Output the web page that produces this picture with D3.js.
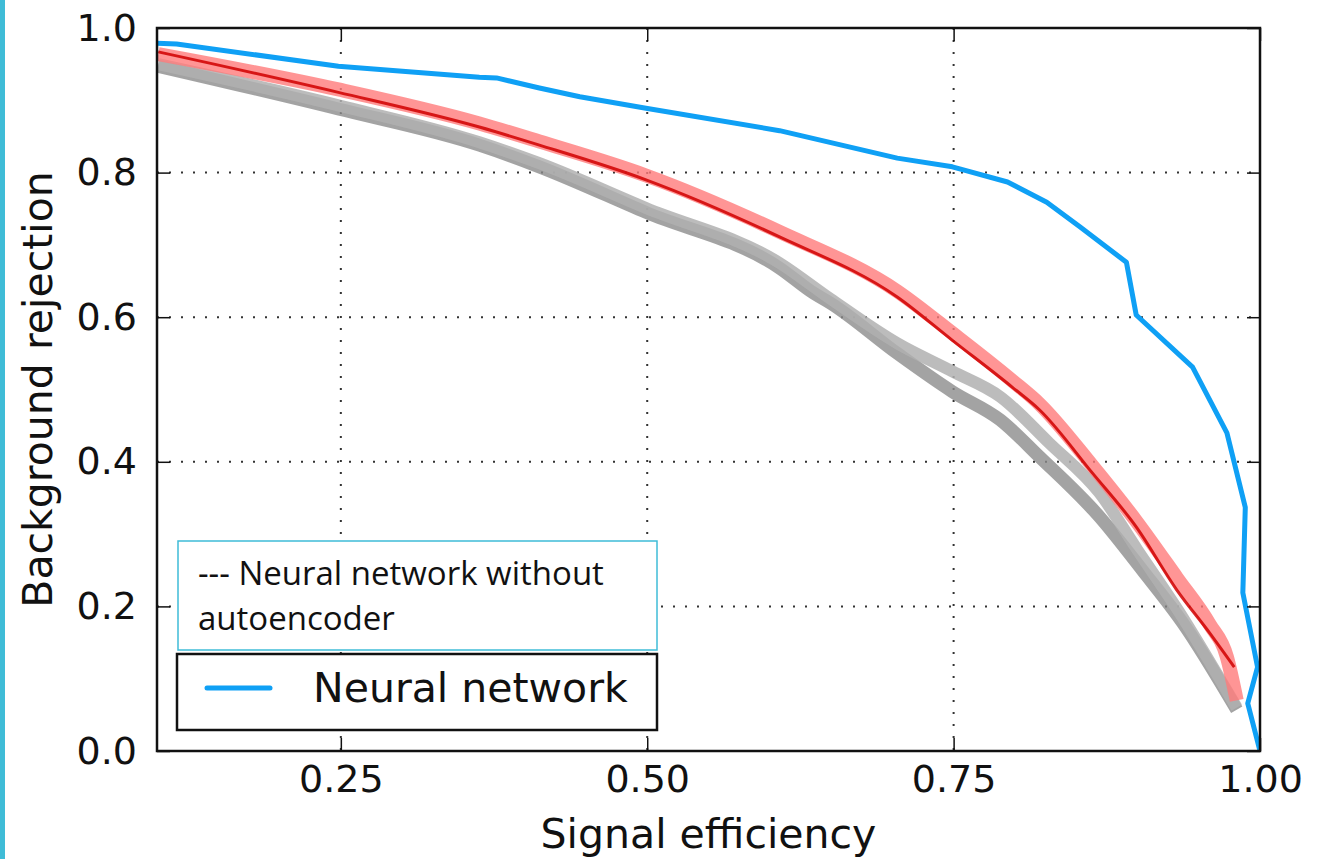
<!DOCTYPE html>
<html lang="en">
<head>
<meta charset="UTF-8">
<title>Background rejection vs signal efficiency</title>
<script src="https://d3js.org/d3.v7.min.js"></script>
<style>
    body { margin: 0; background: #fff; }
    #chart text { font-family: 'DejaVu Sans', sans-serif; fill: #111; }
    #chart .note text { font-family: 'Open Sans', Lato, sans-serif; }
</style>
</head>
<body>
<div id="chart"></div>
<script>
    // tick values
    const xTicks = [0.25, 0.5, 0.75, 1.0];
    const yTicks = [0.0, 0.2, 0.4, 0.6, 0.8, 1.0];

    // neural network (blue)
    const nnX = [0.1, 0.116, 0.248, 0.363, 0.377, 0.412, 0.445, 0.499, 0.608, 0.704, 0.749, 0.794, 0.826, 0.853, 0.891, 0.899, 0.945, 0.973, 0.988, 0.986, 0.998, 0.990, 1.0];
    const nnY = [0.979, 0.978, 0.947, 0.932, 0.931, 0.917, 0.905, 0.889, 0.858, 0.820, 0.808, 0.787, 0.759, 0.725, 0.676, 0.603, 0.531, 0.440, 0.337, 0.219, 0.116, 0.066, 0.0];

    // neural network without autoencoder (dark red line)
    const redX = [0.101, 0.248, 0.363, 0.412, 0.499, 0.608, 0.704, 0.749, 0.798, 0.820, 0.863, 0.899, 0.932, 0.959, 0.979];
    const redY = [0.967, 0.911, 0.863, 0.838, 0.790, 0.711, 0.628, 0.568, 0.503, 0.472, 0.385, 0.310, 0.223, 0.163, 0.116];

    // pink spread around it
    const pinkX = [0.101, 0.248, 0.363, 0.412, 0.499, 0.608, 0.704, 0.749, 0.798, 0.820, 0.863, 0.899, 0.932, 0.959, 0.973, 0.981];
    const pinkY = [0.964, 0.915, 0.868, 0.843, 0.796, 0.718, 0.636, 0.578, 0.512, 0.480, 0.395, 0.318, 0.240, 0.175, 0.130, 0.070];

    // grey spreads
    const greyLightX = [0.101, 0.248, 0.363, 0.412, 0.499, 0.608, 0.649, 0.704, 0.749, 0.788, 0.828, 0.869, 0.900, 0.933, 0.981];
    const greyLightY = [0.950, 0.893, 0.842, 0.813, 0.751, 0.675, 0.626, 0.564, 0.525, 0.490, 0.426, 0.357, 0.278, 0.195, 0.060];
    const greyDarkX = [0.101, 0.248, 0.363, 0.412, 0.499, 0.608, 0.636, 0.649, 0.704, 0.749, 0.788, 0.820, 0.869, 0.904, 0.937, 0.981];
    const greyDarkY = [0.947, 0.888, 0.838, 0.808, 0.745, 0.668, 0.633, 0.620, 0.550, 0.497, 0.458, 0.407, 0.324, 0.250, 0.177, 0.057];

    const zip = (xs, ys) => xs.map((v, i) => [v, ys[i]]);

    const width = 1323, height = 859;
    const pL = 157, pR = 1260, pT = 28, pB = 751;

    const svg = d3.select("#chart").append("svg")
        .attr("width", width)
        .attr("height", height);

    // slide accent bar on the left
    svg.append("rect").attr("x", 0).attr("y", 0).attr("width", 5).attr("height", height).attr("fill", "#3fbcd7");

    const x = d3.scaleLinear().domain([0.1, 1.0]).range([pL, pR]);
    const y = d3.scaleLinear().domain([0, 1]).range([pB, pT]);

    svg.append("clipPath").attr("id", "plot")
        .append("rect").attr("x", pL).attr("y", pT).attr("width", pR - pL).attr("height", pB - pT);

    // dotted grid
    const grid = svg.append("g").attr("stroke", "#333").attr("stroke-width", 2).attr("stroke-dasharray", "2,10");
    grid.selectAll(".gx").data(xTicks.filter(d => d < 1)).join("line")
        .attr("x1", d => x(d)).attr("x2", d => x(d)).attr("y1", pT).attr("y2", pB);
    grid.selectAll(".gy").data(yTicks.filter(d => d > 0 && d < 1)).join("line")
        .attr("y1", d => y(d)).attr("y2", d => y(d)).attr("x1", pL).attr("x2", pR);

    const smooth = d3.line().x(d => x(d[0])).y(d => y(d[1])).curve(d3.curveMonotoneX);
    const poly = d3.line().x(d => x(d[0])).y(d => y(d[1]));
    const curves = svg.append("g").attr("clip-path", "url(#plot)").attr("fill", "none")
        .attr("stroke-linejoin", "round");

    curves.append("path").attr("d", smooth(zip(greyDarkX, greyDarkY)))
        .attr("stroke", "#8c8c8c").attr("stroke-opacity", 0.8).attr("stroke-width", 13);
    curves.append("path").attr("d", smooth(zip(greyLightX, greyLightY)))
        .attr("stroke", "#b0b0b0").attr("stroke-opacity", 0.85).attr("stroke-width", 12);
    curves.append("path").attr("d", smooth(zip(pinkX, pinkY)))
        .attr("stroke", "#ff7a7a").attr("stroke-opacity", 0.8).attr("stroke-width", 14);
    curves.append("path").attr("d", smooth(zip(redX, redY)))
        .attr("stroke", "#d00000").attr("stroke-opacity", 0.85).attr("stroke-width", 3);
    curves.append("path").attr("d", poly(zip(nnX, nnY)))
        .attr("stroke", "#0fa0f5").attr("stroke-width", 5);

    // axes, ticks pointing inward on all four sides
    const fx = d3.format(".2f"), fy = d3.format(".1f");
    svg.append("g").attr("transform", `translate(0,${pB})`)
        .call(d3.axisBottom(x).tickValues(xTicks).tickFormat(fx).tickSize(-13).tickPadding(14));
    svg.append("g").attr("transform", `translate(${pL},0)`)
        .call(d3.axisLeft(y).tickValues(yTicks).tickFormat(fy).tickSize(-13).tickPadding(20));
    svg.append("g").attr("transform", `translate(0,${pT})`)
        .call(d3.axisTop(x).tickValues(xTicks).tickFormat("").tickSize(-13));
    svg.append("g").attr("transform", `translate(${pR},0)`)
        .call(d3.axisRight(y).tickValues(yTicks).tickFormat("").tickSize(-13));
    svg.selectAll(".domain").remove();
    svg.selectAll(".tick line").attr("stroke", "#111").attr("stroke-width", 1.5);
    svg.selectAll(".tick text").attr("font-size", 38).attr("font-family", "'DejaVu Sans', sans-serif").attr("fill", "#111");

    svg.append("rect").attr("x", pL).attr("y", pT).attr("width", pR - pL).attr("height", pB - pT)
        .attr("fill", "none").attr("stroke", "#111").attr("stroke-width", 2.5);

    svg.append("text").attr("x", (pL + pR) / 2).attr("y", 848)
        .attr("text-anchor", "middle").attr("font-size", 41).text("Signal efficiency");
    svg.append("text").attr("transform", `translate(52,${(pT + pB) / 2}) rotate(-90)`)
        .attr("text-anchor", "middle").attr("font-size", 41).text("Background rejection");

    // annotation box
    const note = svg.append("g").attr("class", "note");
    note.append("rect").attr("x", 178).attr("y", 541).attr("width", 479).attr("height", 109)
        .attr("fill", "#fff").attr("stroke", "#3fbcd7").attr("stroke-width", 1.5);
    note.append("text").attr("x", 198).attr("y", 585).attr("font-size", 33).text("--- Neural network without");
    note.append("text").attr("x", 198).attr("y", 630).attr("font-size", 33).text("autoencoder");

    // legend
    const legend = svg.append("g");
    legend.append("rect").attr("x", 177).attr("y", 654).attr("width", 480).attr("height", 76)
        .attr("fill", "#fff").attr("stroke", "#111").attr("stroke-width", 2.5);
    legend.append("line").attr("x1", 207).attr("x2", 270).attr("y1", 688).attr("y2", 688)
        .attr("stroke", "#0fa0f5").attr("stroke-width", 5).attr("stroke-linecap", "round");
    legend.append("text").attr("x", 313).attr("y", 702).attr("font-size", 41).text("Neural network");
</script>
</body>
</html>
